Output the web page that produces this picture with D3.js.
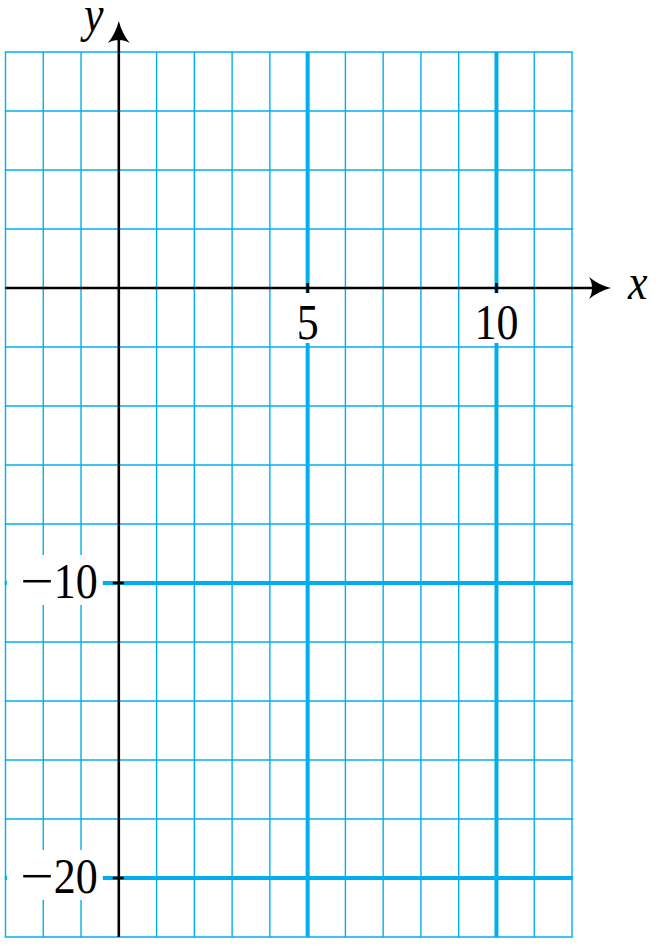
<!DOCTYPE html>
<html><head><meta charset="utf-8">
<script src="https://cdn.jsdelivr.net/npm/d3@7"></script>
<style>html,body{margin:0;padding:0;background:#fff;}</style>
</head><body>
<svg id="chart" width="658" height="946"></svg>
<script>
const xDomain = [-3, 12];
const yDomain = [-22, 8];
const xGridValues = d3.range(-3, 13, 1);
const yGridValues = d3.range(-22, 9, 2);
const xMajor = [5, 10];
const yMajor = [-10, -20];
const xTickLabels = ["5", "10"];
const yTickLabels = ["10", "20"];

const svg = d3.select("#chart");
const x = d3.scaleLinear().domain(xDomain).range([5.5, 572]);
const y = d3.scaleLinear().domain(yDomain).range([937, 52]);
const blue = "#00aeef";

const g = svg.append("g");
g.selectAll("line.vx").data(xGridValues).enter().append("line")
  .attr("x1", d => x(d)).attr("x2", d => x(d))
  .attr("y1", y(yDomain[0])).attr("y2", y(yDomain[1]))
  .attr("stroke", blue).attr("stroke-width", d => xMajor.includes(d) ? 4 : 1.4);
g.selectAll("line.hy").data(yGridValues).enter().append("line")
  .attr("y1", d => y(d)).attr("y2", d => y(d))
  .attr("x1", x(xDomain[0]) - 0.7).attr("x2", x(xDomain[1]) + 0.7)
  .attr("stroke", blue).attr("stroke-width", d => yMajor.includes(d) ? 4 : 1.4);

const fs = 44, sy = 1.15;
const font = "'Liberation Serif', 'DejaVu Serif', serif";

xMajor.forEach((v, i) => {
  const cx = x(v);
  const w = xTickLabels[i].length * 22 + 8;
  svg.append("rect").attr("x", cx - w / 2).attr("y", y(0) + 5).attr("width", w).attr("height", 50).attr("fill", "#fff");
  svg.append("text").attr("transform", `translate(${cx},${y(0) + 51}) scale(1,${sy})`)
    .attr("text-anchor", "middle").attr("font-family", font).attr("font-size", fs).attr("fill", "#000")
    .text(xTickLabels[i]);
});
yMajor.forEach((v, i) => {
  const cy = y(v);
  svg.append("rect").attr("x", 7).attr("y", cy - 28).attr("width", x(0) - 7 - 16).attr("height", 50).attr("fill", "#fff");
  svg.append("text").attr("transform", `translate(${x(0) - 21},${cy + 15}) scale(1,${sy})`)
    .attr("text-anchor", "end").attr("font-family", font).attr("font-size", fs).attr("fill", "#000")
    .text(yTickLabels[i]);
  // wide minus sign (as in the reference typeface), drawn as a glyph
  svg.append("text").attr("transform", `translate(${x(0) - 65},${cy + 15}) scale(1.35,${sy})`)
    .attr("text-anchor", "end").attr("font-family", font).attr("font-size", fs).attr("fill", "#000")
    .text("\u2212");
});

const ax = svg.append("g");
ax.append("line").attr("x1", x(xDomain[0])).attr("x2", 602).attr("y1", y(0)).attr("y2", y(0))
  .attr("stroke", "#000").attr("stroke-width", 2.6);
ax.append("line").attr("x1", x(0)).attr("x2", x(0)).attr("y1", y(yDomain[0])).attr("y2", 30)
  .attr("stroke", "#000").attr("stroke-width", 2.6);
const tipX = 611, ty = y(0);
ax.append("path").attr("d", `M${tipX},${ty} C${tipX-8},${ty-2} ${tipX-16},${ty-6} ${tipX-22},${ty-11} C${tipX-18},${ty-5} ${tipX-18},${ty+5} ${tipX-22},${ty+11} C${tipX-16},${ty+6} ${tipX-8},${ty+2} ${tipX},${ty} Z`)
  .attr("fill", "#000");
const tx = x(0), tipY = 21;
ax.append("path").attr("d", `M${tx},${tipY} C${tx-2},${tipY+8} ${tx-6},${tipY+16} ${tx-11},${tipY+22} C${tx-5},${tipY+18} ${tx+5},${tipY+18} ${tx+11},${tipY+22} C${tx+6},${tipY+16} ${tx+2},${tipY+8} ${tx},${tipY} Z`)
  .attr("fill", "#000");

xMajor.forEach(v => ax.append("line").attr("x1", x(v)).attr("x2", x(v)).attr("y1", y(0) - 5).attr("y2", y(0) + 5).attr("stroke", "#000").attr("stroke-width", 2.6));
yMajor.forEach(v => ax.append("line").attr("y1", y(v)).attr("y2", y(v)).attr("x1", x(0) - 6).attr("x2", x(0) + 5).attr("stroke", "#000").attr("stroke-width", 2.6));

svg.append("text").attr("transform", `translate(628,299) scale(1,${sy})`).attr("font-family", font)
  .attr("font-style", "italic").attr("font-size", fs).attr("fill", "#000").text("x");
svg.append("text").attr("transform", `translate(84,31) scale(1,${sy})`).attr("font-family", font)
  .attr("font-style", "italic").attr("font-size", fs).attr("fill", "#000").text("y");
</script>
</body></html>
